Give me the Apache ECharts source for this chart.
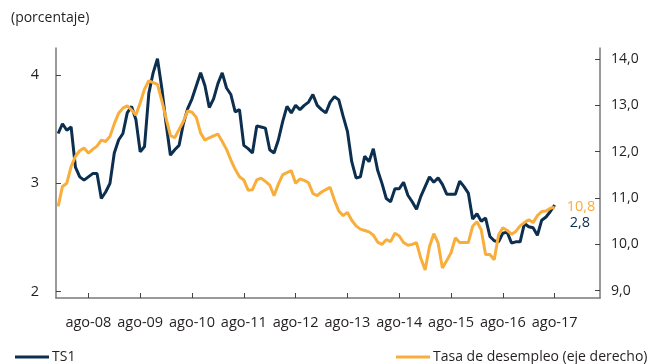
<!DOCTYPE html>
<html>
<head>
<meta charset="utf-8">
<script src="https://cdn.jsdelivr.net/npm/echarts@6/dist/echarts.min.js"></script>
<style>
  html, body { margin: 0; padding: 0; background: #ffffff; }
  #chart { width: 652px; height: 364px; }
</style>
</head>
<body>
<div id="chart"></div>
<script>
// Monthly axis: ene-08 through jun-18 (data runs to ago-17)
const monthNames = ['ene','feb','mar','abr','may','jun','jul','ago','sep','oct','nov','dic'];
const firstYear = 2008;
const monthCount = 126;
const categories = [];
for (let i = 0; i < monthCount; i++) {
  const y = firstYear + Math.floor(i / 12);
  categories.push(monthNames[i % 12] + '-' + String(y % 100).padStart(2, '0'));
}

// TS1 (left axis)
const ts1 = [
  3.46, 3.55, 3.49, 3.52, 3.15, 3.06, 3.03, 3.06, 3.09, 3.09, 2.86, 2.92,
  3.00, 3.28, 3.40, 3.46, 3.65, 3.71, 3.59, 3.29, 3.34, 3.83, 4.02, 4.15,
  3.88, 3.55, 3.26, 3.31, 3.35, 3.55, 3.69, 3.78, 3.90, 4.02, 3.90, 3.70,
  3.78, 3.92, 4.02, 3.88, 3.82, 3.66, 3.68, 3.35, 3.32, 3.28, 3.53, 3.52,
  3.51, 3.31, 3.28, 3.40, 3.57, 3.71, 3.65, 3.72, 3.68, 3.72, 3.75, 3.82,
  3.72, 3.68, 3.65, 3.75, 3.80, 3.77, 3.62, 3.48, 3.20, 3.05, 3.06, 3.25,
  3.20, 3.32, 3.12, 3.00, 2.86, 2.83, 2.95, 2.95, 3.01, 2.89, 2.83, 2.76,
  2.88, 2.97, 3.06, 3.01, 3.05, 2.99, 2.90, 2.90, 2.90, 3.02, 2.97, 2.91,
  2.67, 2.72, 2.65, 2.68, 2.51, 2.47, 2.46, 2.54, 2.55, 2.45, 2.46, 2.46,
  2.63, 2.60, 2.59, 2.52, 2.66, 2.69, 2.74, 2.80
];

// Tasa de desempleo (right axis)
const desempleo = [
  10.82, 11.25, 11.32, 11.68, 11.90, 12.02, 12.08, 11.97, 12.05, 12.12, 12.25, 12.22,
  12.33, 12.60, 12.83, 12.94, 12.99, 12.90, 12.79, 13.05, 13.35, 13.53, 13.49, 13.45,
  13.10, 12.72, 12.35, 12.30, 12.48, 12.65, 12.88, 12.85, 12.74, 12.40, 12.25, 12.30,
  12.34, 12.38, 12.22, 12.05, 11.82, 11.62, 11.46, 11.39, 11.17, 11.18, 11.39, 11.43,
  11.36, 11.28, 11.05, 11.30, 11.50, 11.55, 11.59, 11.32, 11.41, 11.38, 11.33, 11.10,
  11.05, 11.13, 11.18, 11.23, 10.95, 10.72, 10.62, 10.69, 10.52, 10.40, 10.33, 10.30,
  10.27, 10.20, 10.05, 10.00, 10.10, 10.06, 10.24, 10.18, 10.04, 9.98, 10.00, 10.04,
  9.70, 9.45, 9.95, 10.23, 10.03, 9.49, 9.65, 9.82, 10.14, 10.04, 10.04, 10.04,
  10.39, 10.49, 10.31, 9.78, 9.78, 9.67, 10.20, 10.36, 10.30, 10.22, 10.28, 10.40,
  10.47, 10.53, 10.47, 10.62, 10.71, 10.72, 10.78, 10.80
];

const leftTicks = [2, 3, 4];
const rightTicks = [9, 10, 11, 12, 13, 14];

const NAVY = '#0d2f4f';
const ORANGE = '#f9ae3c';
const AXIS = '#7a7a7a';
const TEXT = '#231f20';
const FONT = '"Open Sans", "Noto Sans", sans-serif';

const comma = (v, d) => v.toFixed(d).replace('.', ',');
const isAugust = (idx, val) => val.indexOf('ago') === 0;

const chart = echarts.init(document.getElementById('chart'), null, { renderer: 'canvas' });

chart.setOption({
  animation: false,
  backgroundColor: '#ffffff',
  textStyle: { fontFamily: FONT },
  title: {
    text: '(porcentaje)',
    left: 6,
    top: 6,
    textStyle: { fontSize: 14, fontWeight: 'normal', color: TEXT, fontFamily: FONT }
  },
  grid: { left: 56, right: 52, top: 48, bottom: 66, containLabel: false },
  legend: [
    {
      data: ['TS1'],
      left: 10, top: 345,
      icon: 'rect', itemWidth: 34, itemHeight: 3, itemGap: 4,
      textStyle: { fontSize: 14, color: TEXT, fontFamily: FONT, padding: [0, 0, 0, -2] }
    },
    {
      data: ['Tasa de desempleo (eje derecho)'],
      left: 391, top: 345,
      icon: 'rect', itemWidth: 34, itemHeight: 3, itemGap: 4,
      textStyle: { fontSize: 14, color: TEXT, fontFamily: FONT, padding: [0, 0, 0, -2] }
    }
  ],
  xAxis: {
    type: 'category',
    data: categories,
    boundaryGap: true,
    axisLine: { show: true, lineStyle: { color: AXIS, width: 1.5 } },
    axisTick: {
      show: true, inside: true, length: 5, alignWithLabel: true,
      interval: isAugust,
      lineStyle: { color: '#444', width: 1 }
    },
    axisLabel: {
      interval: isAugust,
      margin: 17,
      fontSize: 14.5,
      color: TEXT,
      fontFamily: FONT
    },
    splitLine: { show: false }
  },
  yAxis: [
    {
      type: 'value',
      position: 'left',
      min: 1.942,
      max: 4.249,
      axisLine: { show: true, lineStyle: { color: AXIS, width: 1.5 } },
      axisTick: {
        show: true, inside: true, length: 5, customValues: leftTicks,
        lineStyle: { color: '#444', width: 1 }
      },
      axisLabel: {
        customValues: leftTicks,
        margin: 17,
        fontSize: 14.5,
        color: TEXT,
        fontFamily: FONT,
        formatter: v => String(Math.round(v))
      },
      splitLine: { show: false }
    },
    {
      type: 'value',
      position: 'right',
      min: 8.843,
      max: 14.237,
      axisLine: { show: true, lineStyle: { color: AXIS, width: 1.5 } },
      axisTick: {
        show: true, inside: true, length: 5, customValues: rightTicks,
        lineStyle: { color: '#444', width: 1 }
      },
      axisLabel: {
        customValues: rightTicks,
        margin: 11,
        fontSize: 14,
        color: TEXT,
        fontFamily: FONT,
        formatter: v => comma(v, 1)
      },
      splitLine: { show: false }
    }
  ],
  series: [
    {
      name: 'TS1',
      type: 'line',
      yAxisIndex: 0,
      data: ts1,
      showSymbol: false,
      symbol: 'none',
      color: NAVY,
      lineStyle: { color: NAVY, width: 3 },
      endLabel: {
        show: true,
        distance: 15,
        offset: [0, 18],
        color: NAVY,
        fontSize: 14.5,
        fontFamily: FONT,
        formatter: p => comma(p.value, 1)
      }
    },
    {
      name: 'Tasa de desempleo (eje derecho)',
      type: 'line',
      yAxisIndex: 1,
      data: desempleo,
      showSymbol: false,
      symbol: 'none',
      color: ORANGE,
      lineStyle: { color: ORANGE, width: 3 },
      endLabel: {
        show: true,
        distance: 12,
        color: ORANGE,
        fontSize: 14.5,
        fontFamily: FONT,
        formatter: p => comma(p.value, 1)
      }
    }
  ]
});
</script>
</body>
</html>
